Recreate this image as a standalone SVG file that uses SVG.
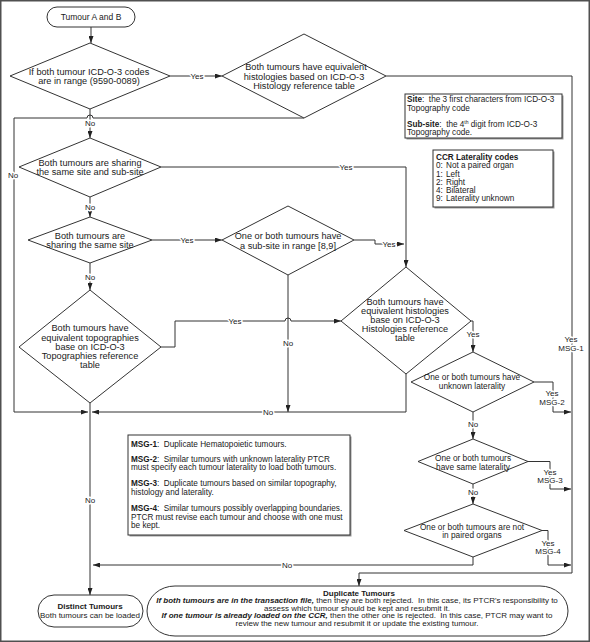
<svg xmlns="http://www.w3.org/2000/svg" width="590" height="642" viewBox="0 0 590 642">
<defs>
<marker id="ah" viewBox="0 0 7 5" refX="7" refY="2.5" markerWidth="7" markerHeight="5" markerUnits="userSpaceOnUse" orient="auto"><path d="M0,0 L7,2.5 L0,5 z" fill="#222"/></marker>
<style>
text{font-family:"Liberation Sans",Arial,sans-serif;fill:#1a1a1a}
.ln{fill:none;stroke:#333;stroke-width:1}
.ar{marker-end:url(#ah)}
.sh{fill:#fff;stroke:#333;stroke-width:1}
.shadow{fill:#999;stroke:none}
.t9{font-size:9.2px;text-anchor:middle}
.t8{font-size:8.3px;text-anchor:middle}
.lg{font-size:8.2px}
.dp{font-size:8px;text-anchor:middle}
.lbl{font-size:8px;text-anchor:middle;stroke:#fff;stroke-width:3;paint-order:stroke;stroke-linejoin:round}
.b{font-weight:bold}
.bi{font-weight:bold;font-style:italic}
</style>
</defs>
<rect x="0.75" y="0.75" width="588.5" height="640.5" fill="#fff" stroke="#505050" stroke-width="1.5"/>

<g id="connectors">
<path class="ln ar" d="M91,27 V43"/>
<path class="ln ar" d="M170,76 H222"/>
<path class="ln ar" d="M90,109 V138"/>
<path class="ln ar" d="M304,118 H93 a3,3 0 0 0 -6,0 H14 V412 H88"/>
<path class="ln ar" d="M161,167 H406 V267"/>
<path class="ln ar" d="M90,197 V217"/>
<path class="ln ar" d="M152,240 H222"/>
<path class="ln ar" d="M90,263 V290"/>
<path class="ln ar" d="M354,240 H375 V244 H404"/>
<path class="ln ar" d="M161,347 H175 V321 H285 a3,3 0 0 1 6,0 H341"/>
<path class="ln ar" d="M288,275 V412"/>
<path class="ln ar" d="M406,374 V412 H92"/>
<path class="ln ar" d="M90,403 V595"/>
<path class="ln ar" d="M471,321 H473 V352"/>
<path class="ln ar" d="M386,76 H572 V573 H359 V586"/>
<path class="ln ar" d="M534,382 H553 V412 H571"/>
<path class="ln ar" d="M473,412 V439"/>
<path class="ln ar" d="M528,461.5 H550 V489 H571"/>
<path class="ln ar" d="M473,484 V504"/>
<path class="ln ar" d="M542,530.5 H548 V565 H571"/>
<path class="ln ar" d="M473,557 V565 H93"/>

<text class="lbl" x="197" y="79">Yes</text>
<text class="lbl" x="90" y="126">No</text>
<text class="lbl" x="13" y="178">No</text>
<text class="lbl" x="346" y="170">Yes</text>
<text class="lbl" x="90" y="210">No</text>
<text class="lbl" x="187" y="243">Yes</text>
<text class="lbl" x="90" y="280">No</text>
<text class="lbl" x="389" y="247">Yes</text>
<text class="lbl" x="235" y="324">Yes</text>
<text class="lbl" x="288" y="346">No</text>
<text class="lbl" x="268" y="415">No</text>
<text class="lbl" x="473" y="337">Yes</text>
<text class="lbl" x="571" y="342">Yes</text>
<text class="lbl" x="571" y="351">MSG-1</text>
<text class="lbl" x="552" y="396">Yes</text>
<text class="lbl" x="552" y="405">MSG-2</text>
<text class="lbl" x="473" y="427">No</text>
<text class="lbl" x="550" y="475">Yes</text>
<text class="lbl" x="550" y="483">MSG-3</text>
<text class="lbl" x="473" y="495">No</text>
<text class="lbl" x="548" y="546">Yes</text>
<text class="lbl" x="548" y="554">MSG-4</text>
<text class="lbl" x="287" y="568">No</text>
<text class="lbl" x="90" y="503">No</text>
</g>

<g id="start">
<rect class="sh" x="47" y="7" width="88" height="20" rx="10"/>
<text class="t9" x="91" y="20" style="font-size:8.5px">Tumour A and B</text>
</g>

<g id="d1">
<polygon class="sh" points="90,43 170,76 90,109 10,76"/>
<text class="t9" x="89" y="75">If both tumour ICD-O-3 codes</text>
<text class="t9" x="89" y="84">are in range (9590-0089)</text>
</g>

<g id="d2">
<polygon class="sh" points="304,34 386,76 304,118 222,76"/>
<text class="t9" x="306" y="70">Both tumours have equivalent</text>
<text class="t9" x="304" y="79.5">histologies based on ICD-O-3</text>
<text class="t9" x="304" y="89">Histology reference table</text>
</g>

<g id="d3">
<polygon class="sh" points="90,138 161,167 90,197 19,167"/>
<text class="t9" x="90" y="166">Both tumours are sharing</text>
<text class="t9" x="90" y="175">the same site and sub-site</text>
</g>

<g id="d4">
<polygon class="sh" points="90,217 152,240 90,263 28,240"/>
<text class="t9" x="90" y="239">Both tumours are</text>
<text class="t9" x="90" y="248">sharing the same site</text>
</g>

<g id="d5a">
<polygon class="sh" points="288,206 354,240 288,275 222,240"/>
<text class="t9" x="288" y="239">One or both tumours have</text>
<text class="t9" x="288" y="249">a sub-site in range [8,9]</text>
</g>

<g id="d6">
<polygon class="sh" points="90,290 161,347 90,403 19,347"/>
<text class="t9" x="90" y="331">Both tumours have</text>
<text class="t9" x="90" y="340.5">equivalent topographies</text>
<text class="t9" x="90" y="350">base on ICD-O-3</text>
<text class="t9" x="90" y="359">Topographies reference</text>
<text class="t9" x="90" y="368">table</text>
</g>

<g id="d5">
<polygon class="sh" points="406,267 471,321 406,374 341,321"/>
<text class="t9" x="405" y="305">Both tumours have</text>
<text class="t9" x="405" y="314">equivalent histologies</text>
<text class="t9" x="405" y="323">base on ICD-O-3</text>
<text class="t9" x="405" y="332">Histologies reference</text>
<text class="t9" x="405" y="341">table</text>
</g>

<g id="d7">
<polygon class="sh" points="473,352 534,382 473,412 411,382"/>
<text class="t8" x="472" y="380">One or both tumours have</text>
<text class="t8" x="472" y="389">unknown laterality</text>
</g>

<g id="d8">
<polygon class="sh" points="473,439 528,461.5 473,484 418,461.5"/>
<text class="t8" x="473" y="461">One or both tumours</text>
<text class="t8" x="473" y="469.5">have same laterality</text>
</g>

<g id="d9">
<polygon class="sh" points="473,504 542,530.5 473,557 404,530.5"/>
<text class="t8" x="472" y="529.5">One or both tumours are not</text>
<text class="t8" x="472" y="538">in paired organs</text>
</g>

<g id="site-note">
<rect class="shadow" x="406.5" y="95.5" width="157" height="44"/>
<rect class="sh" x="405" y="94" width="157" height="44"/>
<text class="lg" x="407" y="102"><tspan class="b">Site</tspan>:&#160; the 3 first characters from ICD-O-3</text>
<text class="lg" x="407" y="111">Topography code</text>
<text class="lg" x="407" y="127"><tspan class="b">Sub-site</tspan>:&#160; the 4<tspan style="font-size:5px" dy="-3">th</tspan><tspan dy="3"> digit from ICD-O-3</tspan></text>
<text class="lg" x="407" y="135">Topography code.</text>
</g>

<g id="laterality-note">
<rect class="shadow" x="434.5" y="151.5" width="120" height="57"/>
<rect class="sh" x="433" y="150" width="120" height="57"/>
<text class="lg b" x="436" y="160">CCR Laterality codes</text>
<text class="lg" x="436" y="168">0:</text><text class="lg" x="446" y="168">Not a paired organ</text>
<text class="lg" x="436" y="176.5">1:</text><text class="lg" x="446" y="176.5">Left</text>
<text class="lg" x="436" y="185">2:</text><text class="lg" x="446" y="185">Right</text>
<text class="lg" x="436" y="193">4:</text><text class="lg" x="446" y="193">Bilateral</text>
<text class="lg" x="436" y="201">9:</text><text class="lg" x="446" y="201">Laterality unknown</text>
</g>

<g id="msg-note">
<rect class="shadow" x="129.5" y="436.5" width="222" height="100"/>
<rect class="sh" x="128" y="435" width="222" height="100"/>
<text class="lg" x="131" y="447"><tspan class="b">MSG-1</tspan>:&#160; Duplicate Hematopoietic tumours.</text>
<text class="lg" x="131" y="462"><tspan class="b">MSG-2</tspan>:&#160; Similar tumours with unknown laterality PTCR</text>
<text class="lg" x="131" y="470">must specify each tumour laterality to load both tumours.</text>
<text class="lg" x="131" y="486"><tspan class="b">MSG-3</tspan>:&#160; Duplicate tumours based on similar topography,</text>
<text class="lg" x="131" y="494.5">histology and laterality.</text>
<text class="lg" x="131" y="511"><tspan class="b">MSG-4</tspan>:&#160; Similar tumours possibly overlapping boundaries.</text>
<text class="lg" x="131" y="519.5">PTCR must revise each tumour and choose with one must</text>
<text class="lg" x="131" y="528">be kept.</text>
</g>

<g id="distinct">
<rect class="sh" x="38" y="595" width="105" height="32" rx="16"/>
<text class="dp b" x="90" y="609">Distinct Tumours</text>
<text class="dp" x="90" y="617.5">Both tumours can be loaded</text>
</g>

<g id="duplicate">
<rect class="sh" x="147" y="586" width="421" height="50" rx="28" ry="25"/>
<text class="dp b" x="359" y="595.5">Duplicate Tumours</text>
<text class="dp" x="357" y="603"><tspan class="bi">If both tumours are in the transaction file,</tspan> then they are both rejected.&#160; In this case, its PTCR's responsibility to</text>
<text class="dp" x="357" y="610.5">assess which tumour should be kept and resubmit it.</text>
<text class="dp" x="357" y="618"><tspan class="bi">If one tumour is already loaded on the CCR,</tspan> then the other one is rejected.&#160; In this case, PTCR may want to</text>
<text class="dp" x="357" y="625.5">review the new tumour and resubmit it or update the existing tumour.</text>
</g>
</svg>
